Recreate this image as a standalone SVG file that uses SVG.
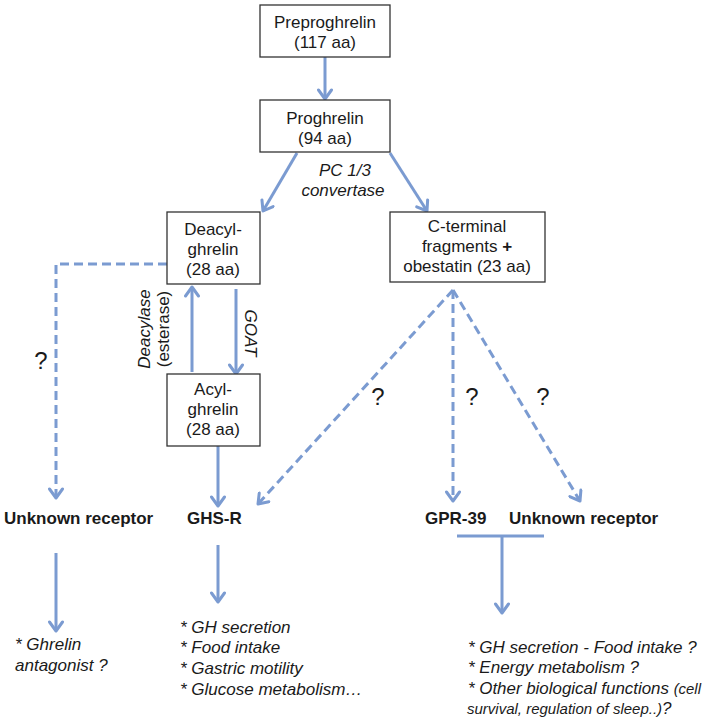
<svg xmlns="http://www.w3.org/2000/svg" width="708" height="722" viewBox="0 0 708 722">
<defs>
<marker id="ah" markerUnits="userSpaceOnUse" markerWidth="16" markerHeight="16" viewBox="0 0 16 16" refX="13" refY="8" orient="auto">
<path d="M4,1.5 L13,8 L4,14.5" fill="none" stroke="#7b9bd1" stroke-width="3" stroke-linecap="round" stroke-linejoin="round"/>
</marker>
<style>
.box{fill:#fff;stroke:#333;stroke-width:1.3}
.t{font-family:"Liberation Sans",Arial,sans-serif;font-size:17px;fill:#1a1a1a}
.q{font-family:"Liberation Sans",Arial,sans-serif;font-size:24px;fill:#1a1a1a;text-anchor:middle}
.s{font-size:15px}
.c{text-anchor:middle}
.b{font-weight:bold}
.i{font-style:italic}
.ln{fill:none;stroke:#7b9bd1;stroke-width:3}
.ar{marker-end:url(#ah)}
.d{stroke-dasharray:9,5}
</style>
</defs>
<g id="connectors">
<line class="ln ar" x1="325" y1="57" x2="325" y2="99"/>
<line class="ln ar" x1="297" y1="153" x2="263" y2="211"/>
<line class="ln ar" x1="390" y1="153" x2="427" y2="211"/>
<polyline class="ln d ar" points="167,264 56,264 56,498"/>
<line class="ln ar" x1="192" y1="372" x2="192" y2="287"/>
<line class="ln ar" x1="236" y1="289" x2="236" y2="374"/>
<line class="ln ar" x1="218" y1="446" x2="218" y2="506"/>
<line class="ln d ar" x1="453" y1="290" x2="258" y2="504"/>
<line class="ln d ar" x1="453" y1="290" x2="453" y2="501"/>
<line class="ln d ar" x1="453" y1="290" x2="580" y2="501"/>
<line class="ln ar" x1="218" y1="545" x2="218" y2="602"/>
<line class="ln ar" x1="56" y1="553" x2="56" y2="631"/>
<line class="ln" x1="457" y1="536" x2="544" y2="536"/>
<line class="ln ar" x1="502" y1="536" x2="502" y2="613"/>
</g>
<g id="preproghrelin">
<rect class="box" x="260" y="5" width="130" height="52"/>
<text class="t c" x="325" y="28">Preproghrelin</text>
<text class="t c" x="325" y="48">(117 aa)</text>
</g>
<g id="proghrelin">
<rect class="box" x="260" y="100" width="130" height="52"/>
<text class="t c" x="325" y="124">Proghrelin</text>
<text class="t c" x="325" y="144">(94 aa)</text>
</g>
<g id="pc-label">
<text class="t c i" x="345" y="176">PC 1/3</text>
<text class="t c i" x="343" y="196">convertase</text>
</g>
<g id="deacyl">
<rect class="box" x="167" y="212" width="93" height="72"/>
<text class="t c" x="213" y="235">Deacyl-</text>
<text class="t c" x="213" y="255">ghrelin</text>
<text class="t c" x="213" y="275">(28 aa)</text>
</g>
<g id="cterm">
<rect class="box" x="390" y="212" width="155" height="70"/>
<text class="t c" x="467" y="232">C-terminal</text>
<text class="t c" x="467" y="252">fragments <tspan class="b">+</tspan></text>
<text class="t c" x="467" y="272">obestatin (23 aa)</text>
</g>
<g id="enzymes">
<text class="t c i" transform="translate(150,329) rotate(-90)">Deacylase</text>
<text class="t c" transform="translate(169,329) rotate(-90)">(esterase)</text>
<text class="t c i" transform="translate(245,333) rotate(90)">GOAT</text>
</g>
<g id="acyl">
<rect class="box" x="167" y="374" width="93" height="72"/>
<text class="t c" x="213" y="395">Acyl-</text>
<text class="t c" x="213" y="415">ghrelin</text>
<text class="t c" x="213" y="435">(28 aa)</text>
</g>
<g id="questions">
<text class="q" x="41" y="369">?</text>
<text class="q" x="378" y="405">?</text>
<text class="q" x="472" y="405">?</text>
<text class="q" x="543" y="405">?</text>
</g>
<g id="unknown-left">
<text class="t b" x="4" y="524">Unknown receptor</text>
</g>
<g id="ghsr">
<text class="t b" x="187" y="524">GHS-R</text>
</g>
<g id="gpr39">
<text class="t b" x="425" y="524">GPR-39</text>
</g>
<g id="unknown-right">
<text class="t b" x="509" y="524">Unknown receptor</text>
</g>
<g id="effect-left">
<text class="t i" x="15" y="650">* Ghrelin</text>
<text class="t i" x="15" y="671">antagonist ?</text>
</g>
<g id="effect-ghsr">
<text class="t i" x="180" y="633">* GH secretion</text>
<text class="t i" x="180" y="653">* Food intake</text>
<text class="t i" x="180" y="674">* Gastric motility</text>
<text class="t i" x="180" y="695">* Glucose metabolism…</text>
</g>
<g id="effect-right">
<text class="t i" x="468" y="653">* GH secretion - Food intake ?</text>
<text class="t i" x="468" y="673">* Energy metabolism ?</text>
<text class="t i" x="468" y="694" textLength="233" lengthAdjust="spacingAndGlyphs">* Other biological functions <tspan class="s">(cell</tspan></text>
<text class="t i" x="467" y="714"><tspan class="s">survival, regulation of sleep..)</tspan>?</text>
</g>
</svg>
